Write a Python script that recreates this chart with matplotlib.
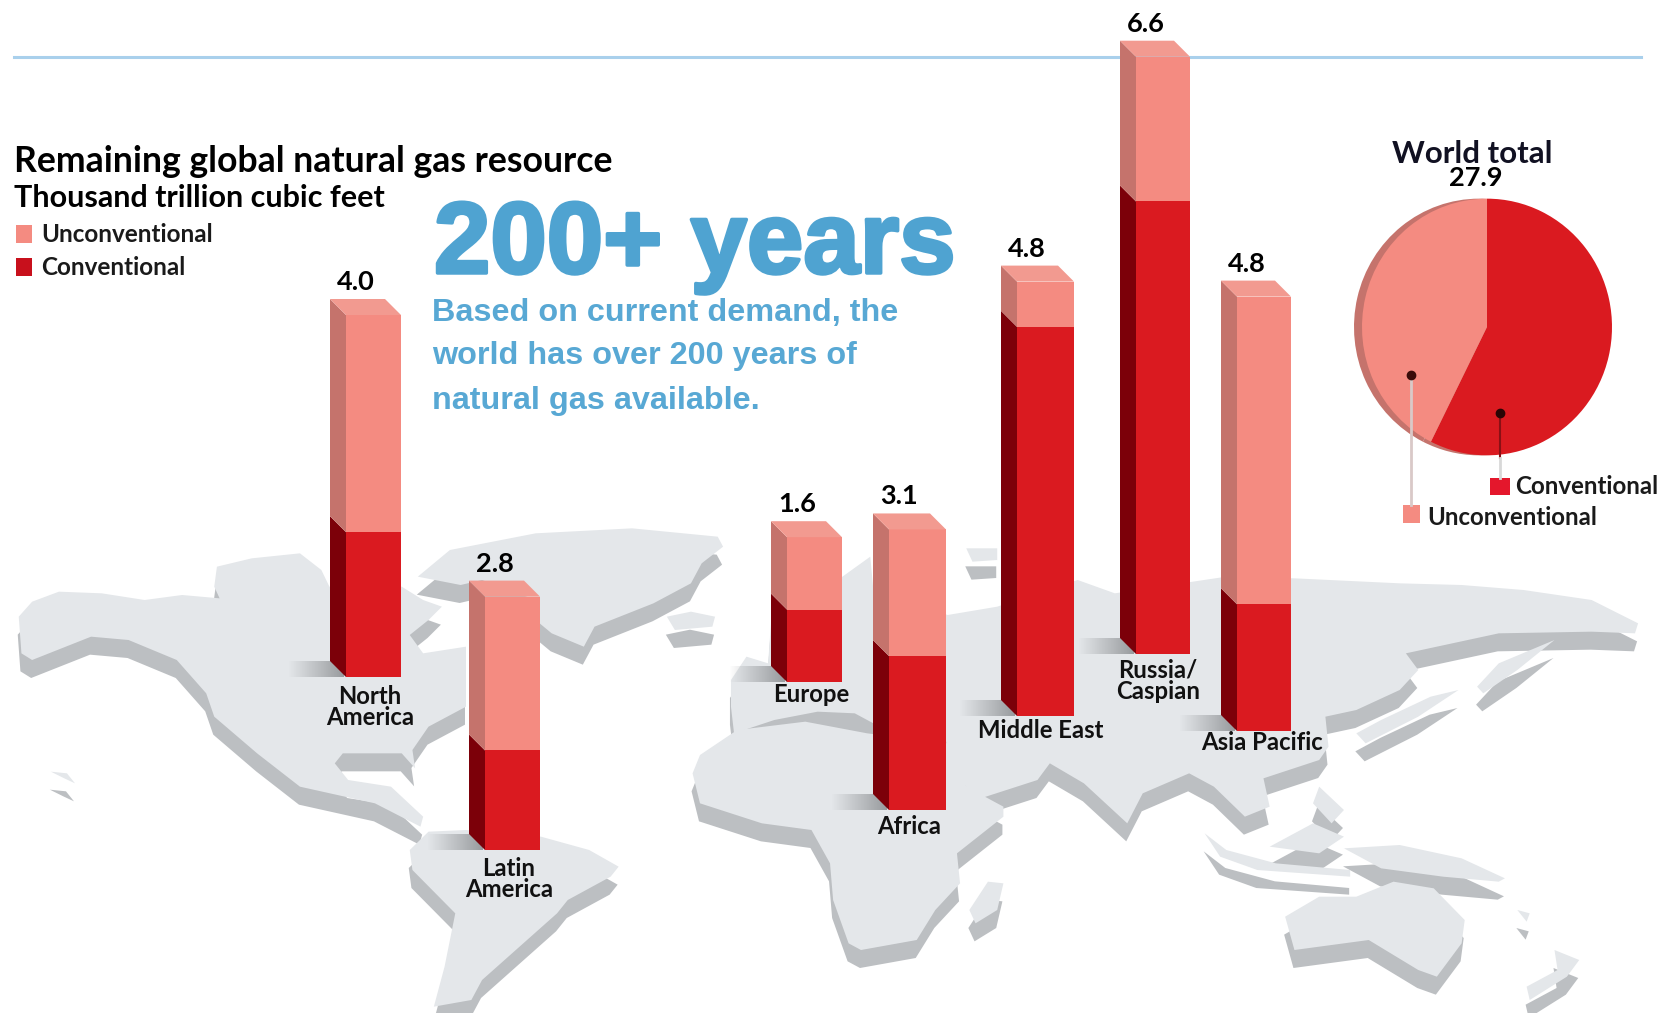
import numpy as np
import matplotlib
matplotlib.use("Agg")
import matplotlib.pyplot as plt
import matplotlib.patheffects as pe

# ---- data: thousand trillion cubic feet ----
regions = ["North\nAmerica", "Latin\nAmerica", "Europe", "Africa", "Middle East", "Russia/\nCaspian", "Asia Pacific"]
conventional = [1.6, 1.1, 0.8, 1.7, 4.3, 5.0, 1.4]
unconventional = [2.4, 1.7, 0.8, 1.4, 0.5, 1.6, 3.4]
total_labels = ["4.0", "2.8", "1.6", "3.1", "4.8", "6.6", "4.8"]
world_total = "27.9"
world_split = [sum(conventional), sum(unconventional)]

# ---- layout in figure pixels ----
W, H = 1671, 1013
PX_PER_UNIT = 90.5
bar_left = [346, 485, 787, 889, 1017, 1136, 1237]
bar_right = [401, 540, 842, 946, 1074, 1190, 1291]
bar_base = [677, 850, 682, 810, 716, 654, 731]
name_x = [370, 509, 811, 909, 1041, 1158, 1262]
name_y = [707, 879, 694, 826, 730, 681, 743]
DEPTH = 16

RED, RED_SIDE = "#da1a20", "#7c0009"
PINK, PINK_SIDE, PINK_CAP = "#f48b81", "#c5736c", "#f29a90"
LAND, LAND_EDGE = "#e4e7ea", "#bcbfc2"
BLUE = "#4fa3d1"
SANS = "Lato"
HEAD = "Liberation Sans"

fig = plt.figure(figsize=(W / 100, H / 100), dpi=100, facecolor="white")

# pixel-space layer for the map and the header
canvas = fig.add_axes([0, 0, 1, 1], zorder=1)
canvas.set_xlim(0, W)
canvas.set_ylim(H, 0)
canvas.axis("off")

# value-space layer for the columns: one y unit is PX_PER_UNIT pixels
bars = fig.add_axes([0, 0, 1, 1], zorder=2)
bars.set_xlim(0, W)
bars.set_ylim(0, H / PX_PER_UNIT)
bars.axis("off")
bars.patch.set_alpha(0)


def west(points):
    return [(x / 1.867, 520 + y / 3) for x, y in points]


def east(points):
    return [(700 + x / 1.615, 520 + y / 3) for x, y in points]


# landmass outlines on two working grids
land_shapes = [
    west([(35, 290), (60, 245), (110, 215), (190, 220), (270, 240), (340, 225), (410, 235), (400, 200),
          (405, 140), (470, 115), (560, 100), (600, 150), (615, 200), (750, 200), (790, 240), (825, 260),
          (800, 300), (765, 345), (790, 400), (870, 380), (870, 560), (800, 620), (770, 690), (775, 745),
          (750, 700), (640, 700), (625, 730), (650, 780), (730, 800), (790, 890), (785, 920), (700, 850),
          (560, 800), (480, 700), (400, 590), (385, 520), (330, 420), (240, 360), (170, 350), (60, 420),
          (40, 400)]),
    west([(780, 170), (840, 90), (1000, 40), (1180, 25), (1340, 50), (1350, 80), (1310, 130), (1290, 190),
          (1220, 250), (1110, 320), (1090, 380), (1030, 340), (1000, 300), (1000, 240), (900, 180), (860, 195)]),
    west([(1245, 290), (1290, 275), (1335, 290), (1330, 320), (1260, 330)]),
    west([(95, 755), (125, 760), (140, 790), (120, 775)]),
    west([(765, 990), (800, 935), (870, 930), (1010, 950), (1100, 990), (1155, 1040), (1140, 1070),
          (1060, 1140), (1040, 1180), (970, 1280), (900, 1380), (880, 1440), (810, 1460), (830, 1340),
          (850, 1180), (770, 1050)]),
    east([(-12, 760), (0, 705), (60, 630), (170, 605), (270, 640), (400, 670), (430, 800), (490, 860),
          (490, 890), (415, 1000), (420, 1090), (380, 1170), (350, 1260), (260, 1290), (240, 1270),
          (215, 1140), (210, 1030), (180, 930), (100, 910), (0, 850)]),
    east([(400, 285), (480, 260), (610, 180), (670, 220), (850, 170), (960, 175), (1130, 190), (1230, 195),
          (1330, 210), (1440, 240), (1515, 310), (1510, 340), (1440, 335), (1290, 340), (1240, 360),
          (1140, 400), (1160, 450), (1130, 510), (1060, 570), (1010, 590), (1015, 680), (1000, 720),
          (910, 775), (920, 860), (880, 890), (830, 800), (790, 760), (715, 820), (690, 910), (620, 790),
          (565, 730), (545, 780), (445, 840), (410, 750), (400, 690), (395, 640), (280, 610), (250, 580),
          (190, 575), (120, 600), (55, 640), (50, 560), (50, 480), (75, 410), (110, 430), (115, 300),
          (230, 170), (275, 110), (280, 210)]),
    east([(430, 85), (480, 85), (480, 120), (440, 125)]),
    east([(1060, 640), (1100, 600), (1180, 530), (1225, 510), (1160, 590), (1075, 670)]),
    east([(1255, 500), (1290, 430), (1380, 360), (1320, 450), (1265, 520)]),
    east([(465, 1085), (490, 1090), (480, 1170), (445, 1210), (435, 1170)]),
    east([(815, 940), (850, 990), (930, 1030), (1050, 1050), (1050, 1070), (900, 1050), (840, 1010)]),
    east([(920, 980), (990, 910), (1040, 950), (1000, 1000)]),
    east([(1000, 800), (1040, 870), (1020, 910), (990, 850)]),
    east([(1040, 985), (1130, 975), (1230, 1015), (1300, 1075), (1290, 1085), (1200, 1070), (1100, 1045)]),
    east([(945, 1190), (1000, 1130), (1060, 1130), (1120, 1085), (1185, 1105), (1235, 1200), (1230, 1270),
          (1190, 1370), (1160, 1350), (1080, 1260), (960, 1290)]),
    east([(1380, 1290), (1420, 1320), (1400, 1370), (1340, 1440), (1335, 1400), (1385, 1350)]),
    east([(1320, 1170), (1340, 1180), (1335, 1205)]),
]

# extruded underside first, then the top surface of every landmass
for shape in land_shapes:
    xs, ys = zip(*shape)
    canvas.fill(np.array(xs) - 1, np.array(ys) + 18, color=LAND_EDGE, lw=0, zorder=1)
for shape in land_shapes:
    xs, ys = zip(*shape)
    canvas.fill(xs, ys, color=LAND, lw=0, zorder=2)

# header rule
canvas.plot([14, 1641], [57, 57], color="#a9d0ec", lw=2.2, zorder=1)

# soft ground shadows beside each column
fade = np.zeros((1, 64, 4))
fade[..., :3] = matplotlib.colors.to_rgb("#85888b")
fade[..., 3] = np.linspace(0, 0.8, 64)
for left, base in zip(bar_left, bar_base):
    canvas.imshow(fade, extent=(left - 58, left - 2, base, base - 16), aspect="auto", zorder=3,
                  interpolation="bilinear")
canvas.set_xlim(0, W)
canvas.set_ylim(H, 0)

# 3-D columns drawn from the values
d_y = DEPTH / PX_PER_UNIT


def segment(ax, left, right, low, high, front, side):
    ax.bar(left, high - low, bottom=low, width=right - left, align="edge", color=front, lw=0, zorder=3)
    ax.fill([left, left, left - DEPTH, left - DEPTH], [low, high, high + d_y, low + d_y],
            color=side, lw=0, zorder=3)


for i, region in enumerate(regions):
    base = (H - bar_base[i]) / PX_PER_UNIT
    split = base + conventional[i]
    top = split + unconventional[i]
    left, right = bar_left[i], bar_right[i]
    segment(bars, left, right, base, split, RED, RED_SIDE)
    segment(bars, left, right, split, top, PINK, PINK_SIDE)
    bars.fill([left, right, right - DEPTH, left - DEPTH], [top, top, top + d_y, top + d_y],
              color=PINK_CAP, lw=0, zorder=3)
    bars.text(left + 10, top + d_y + 17 / PX_PER_UNIT, total_labels[i], family=SANS, weight="bold",
              fontsize=19.5, ha="center", va="center", color="black", zorder=5)
    bars.text(name_x[i], (H - name_y[i]) / PX_PER_UNIT, region, family=SANS, weight="bold", fontsize=17.2,
              ha="center", va="center", linespacing=0.9, color="#111111", zorder=5)

# header block
canvas.text(14, 161, "Remaining global natural gas resource", family=SANS, weight="bold", fontsize=25.7,
            va="center", color="black", zorder=6)
canvas.text(14, 198, "Thousand trillion cubic feet", family=SANS, weight="bold", fontsize=22,
            va="center", color="black", zorder=6)
for label, color, y in [("Unconventional", PINK, 234), ("Conventional", "#c8101c", 267)]:
    canvas.fill([16, 32, 32, 16], [y - 9, y - 9, y + 9, y + 9], color=color, lw=0, zorder=6)
    canvas.text(41, y, label, family=SANS, weight="bold", fontsize=17.5, va="center", color="#1a1a1a", zorder=6)

canvas.text(434, 247, "200+ years", family=HEAD, weight="bold", fontsize=73, va="center", color=BLUE, zorder=6,
            path_effects=[pe.withStroke(linewidth=2.5, foreground=BLUE)])
for line, y in [("Based on current demand, the", 313), ("world has over 200 years of", 356),
                ("natural gas available.", 401)]:
    canvas.text(432, y, line, family=HEAD, weight="bold", fontsize=23.3, va="center", color="#58a8d4", zorder=7)

# world total pie, with a darker rim showing on its left
pie_ax = fig.add_axes([(1487 - 150) / W, 1 - (327 + 154) / H, 300 / W, 308 / H], zorder=3)
pie_ax.pie(world_split, colors=[PINK_SIDE, PINK_SIDE], startangle=90, counterclock=False, radius=125 / 150,
           center=(-8 / 150, 0))
pie_ax.pie(world_split, colors=[RED, PINK], startangle=90, counterclock=False, radius=125 / 150)
pie_ax.set_xlim(-1, 1)
pie_ax.set_ylim(-1, 1)
pie_ax.set_aspect("auto")
pie_ax.axis("off")

# pie title, leaders and key sit above the pie
top_layer = fig.add_axes([0, 0, 1, 1], zorder=4)
top_layer.set_xlim(0, W)
top_layer.set_ylim(H, 0)
top_layer.axis("off")
top_layer.patch.set_alpha(0)
top_layer.text(1472, 154, "World total", family=SANS, weight="bold", fontsize=22.5, ha="center", va="center",
               color="#111122")
top_layer.text(1476, 178, world_total, family=SANS, weight="bold", fontsize=19.5, ha="center", va="center",
               color="black")
top_layer.plot([1411, 1411], [375, 505], color="#d9c9c8", lw=2)
top_layer.plot([1500, 1500], [413, 458], color="#8a1015", lw=1.5)
top_layer.plot([1500, 1500], [458, 478], color="#d8d8d8", lw=2)
top_layer.plot([1411], [375], "o", color="#3a0c0a", ms=6)
top_layer.plot([1500], [413], "o", color="#2a0505", ms=6)
top_layer.fill([1490, 1510, 1510, 1490], [478, 478, 495, 495], color="#e4172c", lw=0)
top_layer.fill([1403, 1420, 1420, 1403], [505, 505, 523, 523], color=PINK, lw=0)
top_layer.text(1515, 486, "Conventional", family=SANS, weight="bold", fontsize=17.4, va="center", color="#1a1a1a")
top_layer.text(1427, 517, "Unconventional", family=SANS, weight="bold", fontsize=17.3, va="center", color="#1a1a1a")

fig.savefig("out.png", dpi=100, facecolor="white")
